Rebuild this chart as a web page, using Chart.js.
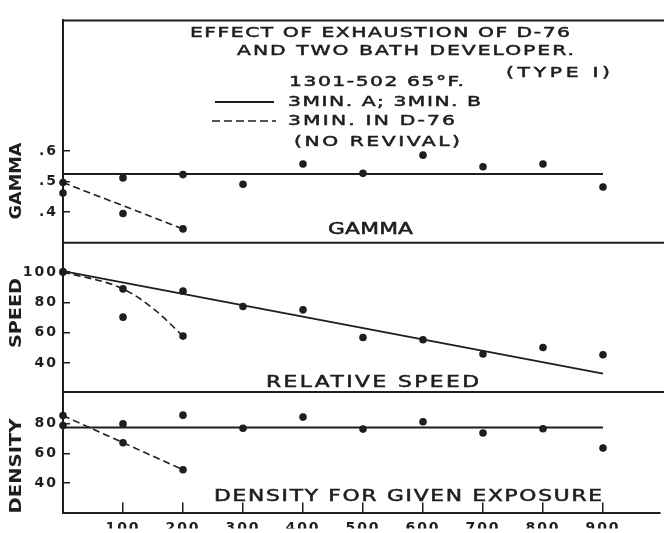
<!DOCTYPE html>
<html><head><meta charset="utf-8">
<script src="https://cdn.jsdelivr.net/npm/chart.js@4/dist/chart.umd.min.js"></script>
<style>html,body{margin:0;padding:0;background:#fff;}#wrap{position:relative;width:664px;height:533px;}</style>
</head><body><div id="wrap"><canvas id="c" width="664" height="533"></canvas></div>
<script>
// ---- data ----
const xTicks = [100, 200, 300, 400, 500, 600, 700, 800, 900];
const gammaTicks = [0.4, 0.5, 0.6];
const speedTicks = [40, 60, 80, 100];
const densityTicks = [40, 60, 80];

const twoBathX = [0, 100, 200, 300, 400, 500, 600, 700, 800, 900];
const twoBathGamma = [0.462, 0.512, 0.523, 0.491, 0.558, 0.527, 0.587, 0.549, 0.558, 0.482];
const twoBathSpeed = [100, 70.2, 87.3, 77.2, 75, 56.8, 55.3, 45.9, 50.2, 45.4];
const twoBathDensity = [78.8, 79.9, 85.8, 77, 84.5, 76.4, 81.4, 73.8, 76.6, 63.7];

const d76X = [0, 100, 200];
const d76Gamma = [0.497, 0.395, 0.344];
const d76Speed = [100, 88.8, 57.7];
const d76Density = [85.5, 67.2, 49];

const fitX = [0, 900];
const gammaFit = [0.525, 0.525];
const speedFit = [100.5, 33];
const densityFit = [77.4, 77.4];

const d76GammaTrendX = [0, 200];
const d76GammaTrend = [0.497, 0.344];
const d76SpeedCurveX = [0, 100, 150, 200];
const d76SpeedCurve = [100, 88.8, 76, 57.7];
const d76DensityTrendX = [0, 200];
const d76DensityTrend = [85.5, 49];

// ---- styling ----
const INK = '#1e1e1e';
const FAM = '"DejaVu Sans", "Liberation Sans", sans-serif';
const pts = (xs, ys) => xs.map((x, i) => ({x: x, y: ys[i]}));

function pointSet(xs, ys, axis) {
  return {type: 'scatter', data: pts(xs, ys), yAxisID: axis, showLine: false,
    pointRadius: 3.8, pointBackgroundColor: INK, pointBorderWidth: 0, clip: false};
}
function lineSet(xs, ys, axis, dashed, smooth) {
  return {type: 'line', data: pts(xs, ys), yAxisID: axis, showLine: true, pointRadius: 0,
    borderColor: INK, borderWidth: dashed ? 1.6 : 2, borderDash: dashed ? [7, 4] : [],
    cubicInterpolationMode: smooth ? 'monotone' : 'default', tension: 0, fill: false, clip: false};
}

function fitText(ctx, text, cx, cy, w, font, rotate, stroke) {
  ctx.save();
  ctx.font = font;
  ctx.letterSpacing = '0px';
  const m = ctx.measureText(text).width;
  const sx = Math.min(1.45, w / m);
  const extra = w - m * sx;
  const ls = (text.length > 1 && extra > 0) ? extra / (text.length - 1) / sx : 0;
  ctx.translate(cx, cy);
  if (rotate) ctx.rotate(-Math.PI / 2);
  ctx.translate(-w / 2, 0);
  ctx.scale(sx, 1);
  ctx.letterSpacing = ls + 'px';
  ctx.fillStyle = INK;
  ctx.strokeStyle = INK;
  ctx.lineWidth = stroke || 0;
  ctx.textAlign = 'left';
  ctx.textBaseline = 'middle';
  ctx.fillText(text, 0, 0);
  if (stroke) ctx.strokeText(text, 0, 0);
  ctx.restore();
}

const framePlugin = {
  id: 'frame',
  afterDraw(chart) {
    const ctx = chart.ctx;
    const a = chart.chartArea;
    ctx.save();
    ctx.strokeStyle = INK;
    ctx.lineWidth = 2;
    ['yG', 'yS', 'yD'].forEach(id => {
      const s = chart.scales[id];
      ctx.beginPath();
      ctx.moveTo(a.left - 1, s.top);
      ctx.lineTo(chart.width, s.top);
      ctx.stroke();
    });
    // legend samples
    ctx.lineWidth = 2;
    ctx.beginPath(); ctx.moveTo(215, 102); ctx.lineTo(274, 102); ctx.stroke();
    ctx.lineWidth = 1.6;
    ctx.setLineDash([8, 4]);
    ctx.beginPath(); ctx.moveTo(212, 121); ctx.lineTo(276, 121); ctx.stroke();
    ctx.setLineDash([]);
    ctx.restore();

    const head = '14px ' + FAM;
    fitText(ctx, 'EFFECT OF EXHAUSTION OF D-76', 380, 33, 380, head, false, 0.5);
    fitText(ctx, 'AND TWO BATH DEVELOPER.', 405.5, 51.5, 337, head, false, 0.5);
    fitText(ctx, '(TYPE I)', 558, 73, 104, head, false, 0.5);
    fitText(ctx, '1301-502 65°F.', 376.5, 82, 175, head, false, 0.5);
    fitText(ctx, '3MIN. A; 3MIN. B', 384.5, 102, 193, head, false, 0.5);
    fitText(ctx, '3MIN. IN D-76', 371.5, 121.5, 167, head, false, 0.5);
    fitText(ctx, '(NO REVIVAL)', 377, 142, 166, head, false, 0.5);

    const lab = '15px ' + FAM;
    fitText(ctx, 'GAMMA', 370.5, 230, 85, lab, false, 0.5);
    fitText(ctx, 'RELATIVE SPEED', 372.5, 383, 213, lab, false, 0.5);
    fitText(ctx, 'DENSITY FOR GIVEN EXPOSURE', 408, 497, 388, lab, false, 0.5);

    const ax = 'bold 16px ' + FAM;
    fitText(ctx, 'GAMMA', 17, 181, 77, ax, true);
    fitText(ctx, 'SPEED', 17, 313, 70, ax, true);
    fitText(ctx, 'DENSITY', 17, 466, 95, ax, true);
  }
};

const spacingPlugin = {
  id: 'spacing',
  beforeDraw(chart) { chart.ctx.letterSpacing = '2px'; },
  afterDatasetsDraw(chart) { chart.ctx.letterSpacing = '0px'; }
};

const tickFont = {family: FAM, size: 14, weight: 'bold'};
function yAxis(min, max, ticks, weight, stackWeight, fmt) {
  return {
    type: 'linear', position: 'left', stack: 'panels', stackWeight: stackWeight, weight: weight,
    min: min, max: max,
    afterBuildTicks: s => { s.ticks = ticks.map(v => ({value: v})); },
    afterFit: s => { s.width = 63; },
    grid: {drawOnChartArea: false, drawTicks: true, tickLength: -7, color: INK, lineWidth: 1.5},
    border: {display: true, color: INK, width: 2},
    ticks: {padding: 12, color: INK, font: tickFont, callback: fmt}
  };
}

new Chart(document.getElementById('c'), {
  data: {
    datasets: [
      lineSet(fitX, gammaFit, 'yG', false),
      lineSet(d76GammaTrendX, d76GammaTrend, 'yG', true),
      pointSet(twoBathX, twoBathGamma, 'yG'),
      pointSet(d76X, d76Gamma, 'yG'),
      lineSet(fitX, speedFit, 'yS', false),
      lineSet(d76SpeedCurveX, d76SpeedCurve, 'yS', true, true),
      pointSet(twoBathX, twoBathSpeed, 'yS'),
      pointSet(d76X, d76Speed, 'yS'),
      lineSet(fitX, densityFit, 'yD', false),
      lineSet(d76DensityTrendX, d76DensityTrend, 'yD', true),
      pointSet(twoBathX, twoBathDensity, 'yD'),
      pointSet(d76X, d76Density, 'yD')
    ]
  },
  options: {
    responsive: false, animation: false, events: [],
    layout: {padding: {top: 17, left: 0, right: 0, bottom: 0}},
    plugins: {legend: {display: false}, tooltip: {enabled: false}, title: {display: false}},
    scales: {
      x: {
        type: 'linear', position: 'bottom', min: 0, max: 995,
        afterBuildTicks: s => { s.ticks = xTicks.map(v => ({value: v})); },
        afterFit: s => { s.height = 16; },
        grid: {drawOnChartArea: false, drawTicks: true, tickLength: -10, color: INK, lineWidth: 1.5},
        border: {display: true, color: INK, width: 2},
        ticks: {padding: 17, color: INK, font: tickFont, maxRotation: 0, autoSkip: false,
          callback: v => String(v)}
      },
      yG: yAxis(0.298, 1.031, gammaTicks, 3, 226, v => '.' + Math.round(v * 10)),
      yS: yAxis(20.9, 119.1, speedTicks, 2, 151.5, v => String(v)),
      yD: yAxis(20.1, 101.4, densityTicks, 1, 122.5, v => String(v))
    }
  },
  plugins: [spacingPlugin, framePlugin]
});
</script></body></html>
